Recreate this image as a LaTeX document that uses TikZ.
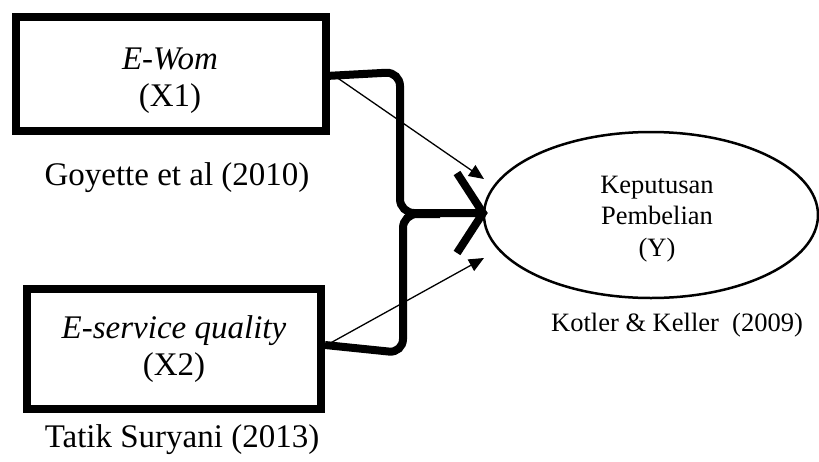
\documentclass[tikz,border=0pt]{standalone}
\usepackage{fontspec}
\setmainfont{Liberation Serif}
\usetikzlibrary{shapes.geometric,arrows.meta}
\begin{document}
\begin{tikzpicture}[x=1pt,y=-1pt,
  varbox/.style={draw, line width=8pt, inner sep=0pt, outer sep=0pt},
  boxtext/.style={align=center, inner sep=0pt, font=\fontsize{33}{37}\selectfont},
  cite/.style={font=\fontsize{33}{38}\selectfont, inner sep=0pt},
  ycite/.style={font=\fontsize{26.5}{31}\selectfont, inner sep=0pt},
  yell/.style={draw, ellipse, line width=2.5pt, inner sep=0pt, outer sep=0pt},
  ytext/.style={align=center, inner sep=0pt, font=\fontsize{26.5}{31.5}\selectfont},
  brace/.style={line width=8pt, rounded corners=14pt},
  thin/.style={line width=1.3pt, -{Triangle[length=15pt,width=13pt]}}
]
\useasboundingbox (0,0) rectangle (819,461);

\node[varbox, minimum width=310pt, minimum height=114pt] (x1) at (171,74) {};
\node[boxtext] (x1t) at (170,81) {\textit{E-Wom}\\(X1)};
\node[varbox, minimum width=294pt, minimum height=120pt] (x2) at (174,349) {};
\node[boxtext] (x2t) at (174,349) {\textit{E-service quality}\\(X2)};
\node[yell, minimum width=334pt, minimum height=166pt] (y) at (651,215) {};
\node[ytext] (yt) at (657,219) {Keputusan\\Pembelian\\(Y)};

\node[cite] (c1) at (177,178) {Goyette et al (2010)};
\node[cite] (c2) at (182,440) {Tatik Suryani (2013)};
\node[ycite] (c3) at (677,325) {Kotler \& Keller\ \ (2009)};

% thick brace
\coordinate (tip) at (483,213);
\draw[brace] ([yshift=-2pt]x1.east) -- (400,72) -- (400,213) -- (tip);
\draw[brace] ([xshift=4pt,yshift=4pt]x2.east) -- (403,353) -- (403,214) -- (440,214);
\draw[line width=8pt, miter limit=4] (457,173) -- (tip) -- (457,253);

% thin arrows
\coordinate (a1) at (484,179);
\coordinate (a2) at (484,258);
\draw[thin] ([yshift=4pt]x1.east) -- (a1);
\draw[thin] ([xshift=4pt,yshift=3pt]x2.east) -- (a2);
\end{tikzpicture}
\end{document}
